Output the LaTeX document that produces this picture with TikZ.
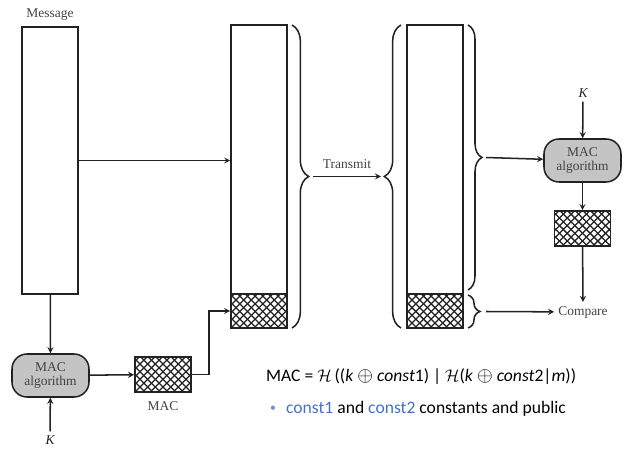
\documentclass[tikz,border=0pt]{standalone}
\usepackage{fontspec}
\setmainfont{Liberation Serif}
\newfontfamily\slidefont{Carlito}
\usepackage{xcolor}
\definecolor{ink}{HTML}{222222}
\definecolor{algfill}{HTML}{C4C4C4}
\definecolor{slideblue}{HTML}{4472C4}
\usepackage{tikz}
\usetikzlibrary{arrows,positioning,calc,decorations.pathreplacing}
\tikzset{
  msgbox/.style={rectangle, draw=ink, line width=1.3pt, fill=white,
               minimum width=1.68cm, inner sep=0pt},
  hatchbox/.style={rectangle, draw=ink, line width=1.4pt, fill=white,
               minimum width=1.68cm, inner sep=0pt,
               path picture={
                 \foreach \i in {-14,...,14}{
                   \draw[ink, line width=1.1pt] ($(path picture bounding box.south west)+(\i*0.23cm,0)$) -- ++(2cm,2cm);
                   \draw[ink, line width=1.1pt] ($(path picture bounding box.south east)+(\i*0.23cm,0)$) -- ++(-2cm,2cm);
                 }}},
  algbox/.style={rectangle, rounded corners=0.45cm, draw=ink, line width=1.3pt, fill=algfill,
               minimum width=2.31cm, minimum height=1.29cm, inner sep=1pt,
               align=center, text=ink!85, font=\fontsize{11.5}{12.5}\selectfont},
  lbl/.style={font=\fontsize{11.5}{13}\selectfont, text=ink!85},
  klbl/.style={font=\fontsize{11.5}{13}\selectfont\itshape, text=ink},
  slide/.style={anchor=west, font=\slidefont\fontsize{15}{18}\selectfont, text=black},
  tarr/.style={->, >=stealth, line width=1.3pt, color=ink},
  tbrace/.style={decorate, decoration={brace, amplitude=#1}, line width=1.3pt, color=ink},
}
\newcommand{\xorop}{{\fontsize{19}{19}\selectfont$\oplus$}}

\begin{document}
\begin{tikzpicture}[x=0.03cm, y=-0.03cm]
  \useasboundingbox (0,0) rectangle (642,458);

  % Sender
  \node[lbl] (msglbl) at (50,15) {Message};
  \node[msgbox, minimum height=8.01cm] (msg) at (50,160.5) {};
  \node[algbox] (salg) at (50.5,375.5) {MAC\\algorithm};
  \node[klbl] (sk) at (50,440) {K};
  \node[hatchbox, minimum height=1.05cm] (smac) at (163,374.5) {};
  \node[lbl] (smaclbl) at (163,406) {MAC};

  % Transmitted block
  \node[msgbox, minimum height=8.07cm] (tmsg) at (259,159.5) {};
  \node[hatchbox, minimum height=1.02cm] (tmac) at (259,311) {};

  % Received block
  \node[msgbox, minimum height=8.07cm] (rmsg) at (435,159.5) {};
  \node[hatchbox, minimum height=1.02cm] (rmac) at (435,311) {};

  % Receiver
  \node[klbl] (rk) at (583,93) {K};
  \node[algbox] (ralg) at (582.5,160.5) {MAC\\algorithm};
  \node[hatchbox, minimum height=1.05cm] (rcalc) at (582.5,228.5) {};
  \node[lbl] (cmp) at (583,312) {Compare};

  % Braces
  \draw[tbrace=0.5cm] (292,25) -- (292,328);
  \draw[tbrace=0.5cm] (401,328) -- (401,25);
  \draw[tbrace=0.42cm] (468,25) -- (468,290);
  \draw[tbrace=0.36cm] (468,295) -- (468,328);
  \coordinate (ttip) at (313,176.5);
  \coordinate (rtip) at (381,176.5);
  \coordinate (rtop) at (486,157.5);
  \coordinate (rbot) at (486,311.5);

  % Sender arrows
  \draw[tarr] (msg.east) -- (msg.east -| tmsg.west);
  \draw[tarr] (msg) -- (salg);
  \draw[tarr] (sk) -- (salg);
  \draw[tarr] (salg) -- (smac);
  \draw[tarr] (smac.east) -- ++(17,0) |- (tmac.west);

  % Transmit
  \draw[tarr] (ttip) -- (rtip) node[midway, above=3pt, lbl] {Transmit};

  % Receiver arrows
  \draw[tarr] (rtop) -- (ralg);
  \draw[tarr] (rk) -- (ralg);
  \draw[tarr] (ralg) -- (rcalc);
  \draw[tarr] (rcalc) -- (cmp);
  \draw[tarr] (rbot) -- (cmp);

  % Formula
  \node[slide] (mac) at (262,377) {MAC = $\mathcal{H}$\,((\textit{k} \xorop{} \textit{const}1) | $\mathcal{H}$(\textit{k} \xorop{} \textit{const}2|\textit{m}))};
  \node[slide, text=slideblue!80, font=\slidefont\fontsize{10}{12}\selectfont] (bul) at (266,409) {•};
  \node[slide] (note) at (282,409) {\textcolor{slideblue}{const1} and \textcolor{slideblue}{const2} constants and public};
\end{tikzpicture}
\end{document}
